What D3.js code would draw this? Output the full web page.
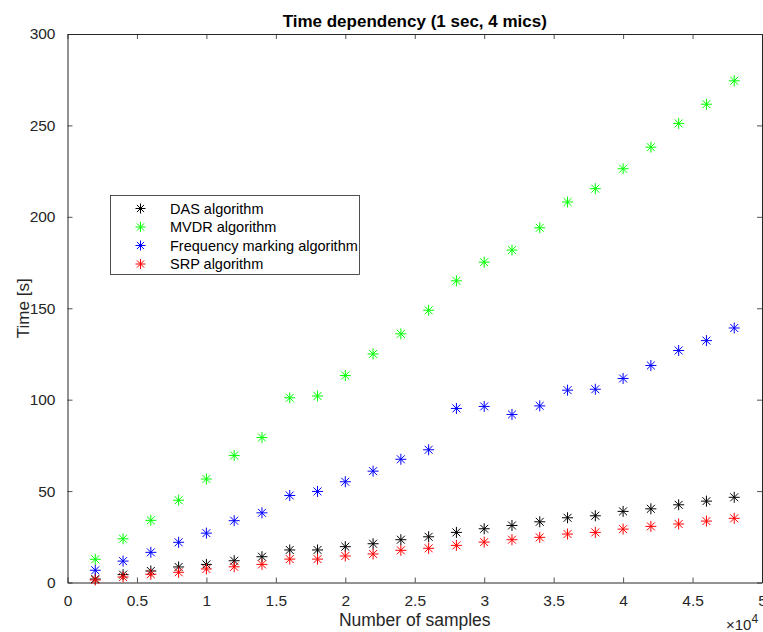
<!DOCTYPE html>
<html><head><meta charset="utf-8">
<script src="https://cdn.jsdelivr.net/npm/d3@7"></script>
<style>body{margin:0;background:#fff;} text{font-family:"Liberation Sans",Arial,Helvetica,sans-serif;}</style>
</head><body>
<svg id="c" width="763" height="632"></svg>
<script>
const samples = [2000,4000,6000,8000,10000,12000,14000,16000,18000,20000,22000,24000,26000,28000,30000,32000,34000,36000,38000,40000,42000,44000,46000,48000];
const das  = [1.9,4.3,6.3,8.5,9.9,11.9,14.1,17.8,17.8,19.6,21.2,23.4,25,27.4,29.4,31.2,33.2,35.4,36.5,38.9,40.3,42.5,44.5,46.6];
const mvdr = [12.7,23.9,34,45,56.6,69.5,79.3,101,102,113.2,125,136,148.9,165,175.2,181.8,194,208.1,215.4,226.3,238.1,251.1,261.6,274.4];
const freq = [6.7,11.7,16.5,22,27,33.8,38.1,47.6,49.8,55.1,60.9,67.4,72.6,95.2,96.3,91.9,96.6,105.2,105.7,111.6,118.7,126.9,132.3,139.2];
const srp  = [1.4,3,4.5,5.6,7.4,8.6,9.9,12.8,12.8,14.5,15.6,17.6,18.7,20.3,22.1,23.4,24.7,26.5,27.4,29.2,30.7,32,33.6,35.1];
const seriesNames = ["DAS algorithm","MVDR algorithm","Frequency marking algorithm","SRP algorithm"];
const seriesColors = ["#000000","#00ff00","#0000ff","#ff0000"];
const xTicks = [0,5000,10000,15000,20000,25000,30000,35000,40000,45000,50000];
const xTickLabels = ["0","0.5","1","1.5","2","2.5","3","3.5","4","4.5","5"];
const yTicks = [0,50,100,150,200,250,300];

const svg = d3.select("#c");
const L=67.5, R=762, T=34, B=582.5;
const x = d3.scaleLinear().domain([0,50000]).range([L,R]);
const y = d3.scaleLinear().domain([0,300]).range([B,T]);
const axC = "#262626";

const gx = svg.append("g").attr("transform",`translate(0,${B})`)
  .call(d3.axisBottom(x).tickValues(xTicks).tickFormat((d,i)=>xTickLabels[i]).tickSizeInner(-5).tickSizeOuter(0).tickPadding(12));
const gxt = svg.append("g").attr("transform",`translate(0,${T})`)
  .call(d3.axisTop(x).tickValues(xTicks).tickFormat("").tickSizeInner(-5).tickSizeOuter(0));
const gy = svg.append("g").attr("transform",`translate(${L},0)`)
  .call(d3.axisLeft(y).tickValues(yTicks).tickSizeInner(-5).tickSizeOuter(0).tickPadding(12));
const gyr = svg.append("g").attr("transform",`translate(${R},0)`)
  .call(d3.axisRight(y).tickValues(yTicks).tickFormat("").tickSizeInner(-5).tickSizeOuter(0));
[gx,gxt,gy,gyr].forEach(g=>{
  g.select(".domain").attr("stroke",axC).attr("stroke-width",1);
  g.selectAll(".tick line").attr("stroke",axC).attr("stroke-width",0.8);
  g.selectAll("text").attr("fill",axC).style("font-size","15.5px").style("font-family","'Liberation Sans',Arial,sans-serif");
});
gx.selectAll(".tick text").attr("dy","0.71em");

function star(g, cx, cy, col, s){
  const d = s*0.72;
  const p = `M${cx-s},${cy}L${cx+s},${cy}M${cx},${cy-s}L${cx},${cy+s}M${cx-d},${cy-d}L${cx+d},${cy+d}M${cx-d},${cy+d}L${cx+d},${cy-d}`;
  g.append("path").attr("d",p).attr("stroke",col).attr("stroke-width",1).attr("fill","none");
}
const allSeries = [das,mvdr,freq,srp];
const mg = svg.append("g");
allSeries.forEach((vals,si)=>{
  vals.forEach((v,i)=> star(mg, x(samples[i]), y(v), seriesColors[si], 5.5));
});

svg.append("text").attr("x",(L+R)/2).attr("y",27).attr("text-anchor","middle")
  .style("font-size","17px").style("font-weight","bold").attr("fill","#000").text("Time dependency (1 sec, 4 mics)");
svg.append("text").attr("x",(L+R)/2).attr("y",626).attr("text-anchor","middle")
  .style("font-size","17.5px").attr("fill",axC).text("Number of samples");
svg.append("text").attr("transform",`translate(29,${(T+B)/2}) rotate(-90)`).attr("text-anchor","middle")
  .style("font-size","17px").attr("fill",axC).text("Time [s]");
const ex = svg.append("text").attr("x",726).attr("y",630).style("font-size","15px").attr("fill",axC);
ex.append("tspan").text("\u00d710");
ex.append("tspan").attr("dy",-7).style("font-size","12px").text("4");

const lg = svg.append("g");
lg.append("rect").attr("x",110.5).attr("y",195.5).attr("width",249).attr("height",79)
  .attr("fill","#fff").attr("stroke","#262626").attr("stroke-width",0.8);
const rowsY = [208.5,227,245.5,264];
seriesNames.forEach((n,i)=>{
  star(lg, 140.5, rowsY[i], seriesColors[i], 5);
  lg.append("text").attr("x",170).attr("y",rowsY[i]).attr("dy","0.35em")
    .style("font-size","14.5px").attr("fill","#000").text(n);
});
</script>
</body></html>
